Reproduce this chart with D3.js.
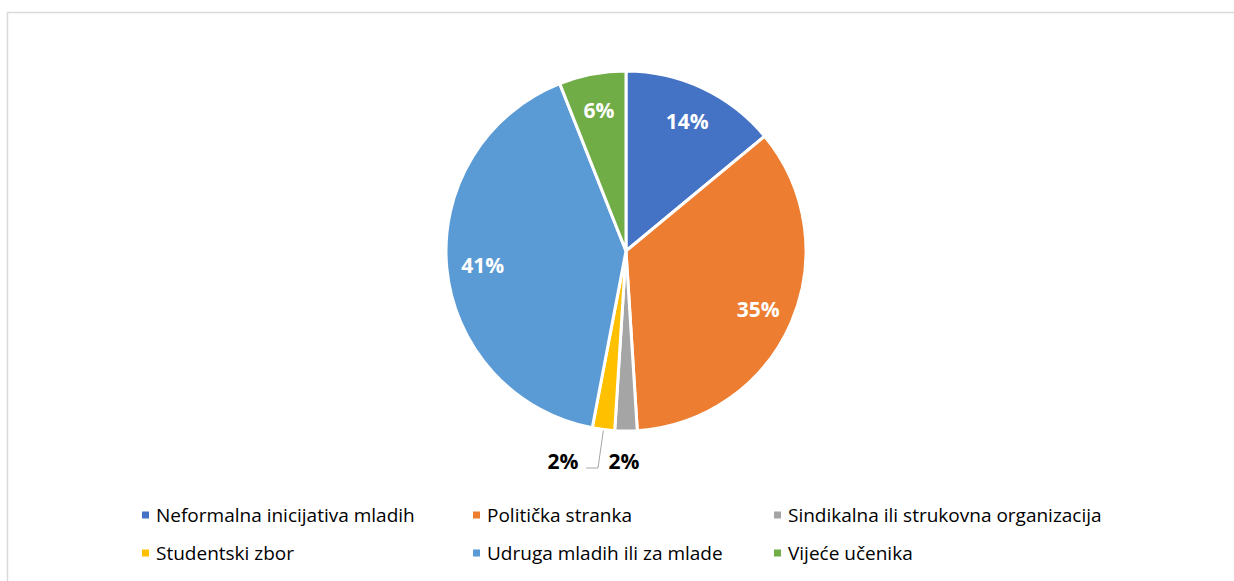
<!DOCTYPE html>
<html>
<head>
<meta charset="utf-8">
<script src="https://cdn.jsdelivr.net/npm/d3@7"></script>
<style>
  body { margin: 0; background: #fff; }
  svg { display: block; }
</style>
</head>
<body>
<svg id="svg1" width="1234" height="581"></svg>
<script>
var width = 1234;
var height = 581;

// data
var categories = ['Neformalna inicijativa mladih', 'Politička stranka', 'Sindikalna ili strukovna organizacija',
                  'Studentski zbor', 'Udruga mladih ili za mlade', 'Vijeće učenika'];
var values = [14, 35, 2, 2, 41, 6];
var colors = ['#4472c4', '#ed7d31', '#a5a5a5', '#ffc000', '#5b9bd5', '#70ad47'];

var font = '"Open Sans", Lato, sans-serif';
var svg = d3.select('#svg1');

// chart frame
svg.append('rect')
    .attr('x', 7.5)
    .attr('y', 12.5)
    .attr('width', 1240)
    .attr('height', 600)
    .attr('fill', 'none')
    .attr('stroke', '#d9d9d9')
    .attr('stroke-width', 1.5);

var cx = 626, cy = 251, radius = 180;

var pie = d3.pie().sort(null).value(function(d){ return d; });
var arcs = pie(values);

var arc = d3.arc().innerRadius(0).outerRadius(radius);
var labelArc = d3.arc().innerRadius(radius * 0.8).outerRadius(radius * 0.8);

var g = svg.append('g')
    .attr('transform', 'translate(' + cx + ',' + cy + ')');

g.selectAll('path')
    .data(arcs)
    .enter()
    .append('path')
    .attr('d', arc)
    .attr('fill', function(d, i){ return colors[i]; })
    .attr('stroke', 'white')
    .attr('stroke-width', 3)
    .attr('stroke-linejoin', 'round');

// labels inside the big slices
g.selectAll('.inLabel')
    .data(arcs.filter(function(d){ return d.data > 3; }))
    .enter()
    .append('text')
    .attr('class', 'inLabel')
    .attr('transform', function(d){
        var c = labelArc.centroid(d);
        return 'translate(' + c[0] + ',' + (c[1] + 1) + ')';
    })
    .attr('text-anchor', 'middle')
    .attr('dy', '0.36em')
    .attr('fill', 'white')
    .attr('font-family', font)
    .attr('font-weight', 'bold')
    .attr('font-size', 21)
    .text(function(d){ return d.data + '%'; });

// small slices get labels below the pie
var outPos = [null, null, [624 - cx, 461 - cy], [563 - cx, 461 - cy], null, null];

arcs.forEach(function(d, i){
    if (!outPos[i]) return;
    g.append('text')
        .attr('x', outPos[i][0])
        .attr('y', outPos[i][1])
        .attr('text-anchor', 'middle')
        .attr('dy', '0.36em')
        .attr('fill', 'black')
        .attr('font-family', font)
        .attr('font-weight', 'bold')
        .attr('font-size', 21)
        .text(d.data + '%');
});

// leader line for the yellow slice
var yel = arcs[3];
var mid = (yel.startAngle + yel.endAngle) / 2;
var p0 = [Math.sin(mid) * (radius + 1), -Math.cos(mid) * (radius + 1)];
g.append('polyline')
    .attr('points', [p0, [598 - cx, 468 - cy], [586 - cx, 468 - cy]].map(function(p){ return p.join(','); }).join(' '))
    .attr('fill', 'none')
    .attr('stroke', '#a6a6a6')
    .attr('stroke-width', 1);

// legend
var legX = [142, 473, 774];
var legY = [515, 553];

var leg = svg.selectAll('.leg')
    .data(categories)
    .enter()
    .append('g')
    .attr('class', 'leg')
    .attr('transform', function(d, i){
        return 'translate(' + legX[i % 3] + ',' + legY[Math.floor(i / 3)] + ')';
    });

leg.append('rect')
    .attr('x', 0)
    .attr('y', -3.5)
    .attr('width', 7)
    .attr('height', 7)
    .attr('fill', function(d, i){ return colors[i]; });

leg.append('text')
    .attr('x', 14)
    .attr('dy', '0.35em')
    .attr('fill', '#000')
    .attr('font-family', font)
    .attr('font-size', 19)
    .text(function(d){ return d; });
</script>
</body>
</html>
